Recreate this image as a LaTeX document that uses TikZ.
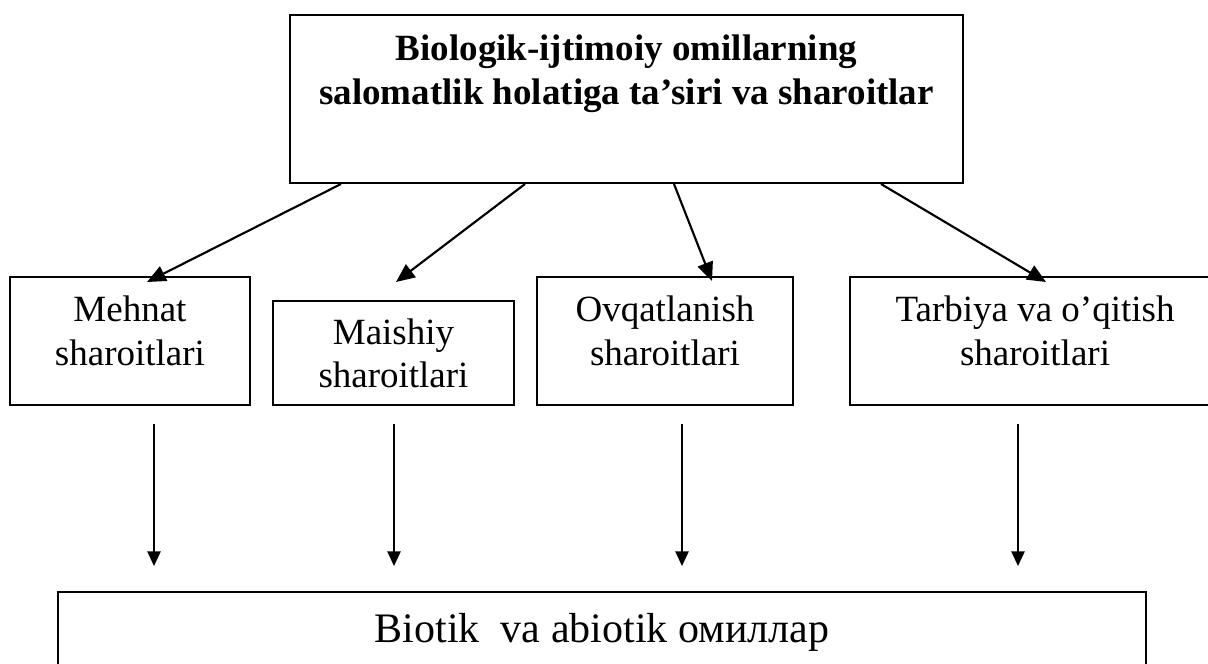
\documentclass[tikz,border=0pt]{standalone}
\usepackage{fontspec}
\setmainfont{Liberation Serif}
\usetikzlibrary{arrows.meta,calc}

\def\px{0.75pt}     % one pixel of the 1208x664 sheet
\tikzset{
    box/.style={draw, line width=1.5pt, align=center, inner sep=0pt},
    slant/.style={-{Triangle[length=14pt,width=12pt]}, line width=1.6pt},
    drop/.style={-{Triangle[length=11pt,width=10pt]}, line width=1.1pt}
}

\begin{document}
\begin{tikzpicture}[x=\px, y=-\px, every node/.append style={font=\fontsize{27.75}{32.5}\selectfont}]

    \useasboundingbox (0,0) rectangle (1208,664);

    % Heading box, text sits in its upper part
    \node[box, font=\bfseries\fontsize{27.75}{33}\selectfont, minimum width=673*\px, minimum height=168*\px, text depth=58*\px]
        (biosocial) at (626.5,99) {Biologik-ijtimoiy omillarning\\salomatlik holatiga ta’siri va sharoitlar};

    % The four kinds of conditions
    \node[box, minimum width=240*\px, minimum height=128*\px, text depth=21*\px] (mehnat) at (130,341) {Mehnat\\sharoitlari};
    \node[box, minimum width=241*\px, minimum height=104*\px, text depth=0*\px] (maishiy) at (393.5,353) {Maishiy\\sharoitlari};
    \node[box, minimum width=256*\px, minimum height=128*\px, text depth=21*\px] (ovqat) at (665,341) {Ovqatlanish\\sharoitlari};
    \node[box, minimum width=370*\px, minimum height=128*\px, text depth=21*\px] (tarbiya) at (1035,341) {Tarbiya va o’qitish\\sharoitlari};

    % Bottom box runs past the lower edge of the sheet
    \node[box, font=\fontsize{31.5}{36}\selectfont, minimum width=1088*\px, minimum height=80*\px]
        (biotik) at (602,632) {Biotik\ \ va abiotik омиллар};

    \draw[slant] ($(biosocial.south)+(-285.5,0)$) -- ($(mehnat.north)+(17,6)$);
    \draw[slant] ($(biosocial.south)+(-101.5,0)$) -- ($(maishiy.north)+(2.5,-18)$);
    \draw[slant] ($(biosocial.south)+(47.5,0)$) -- ($(ovqat.north)+(47,5)$);
    \draw[slant] ($(biosocial.south)+(254.5,0)$) -- ($(tarbiya.north)+(11,6)$);

    % Vertical arrows, off the box centres
    \foreach \n/\dx in {mehnat/24, maishiy/0.5, ovqat/17, tarbiya/-17}
        \draw[drop, shorten <=13.5pt, shorten >=18.75pt] ($(\n.south)+(\dx,0)$) -- ($(\n.south |- biotik.north)+(\dx,0)$);

\end{tikzpicture}
\end{document}
